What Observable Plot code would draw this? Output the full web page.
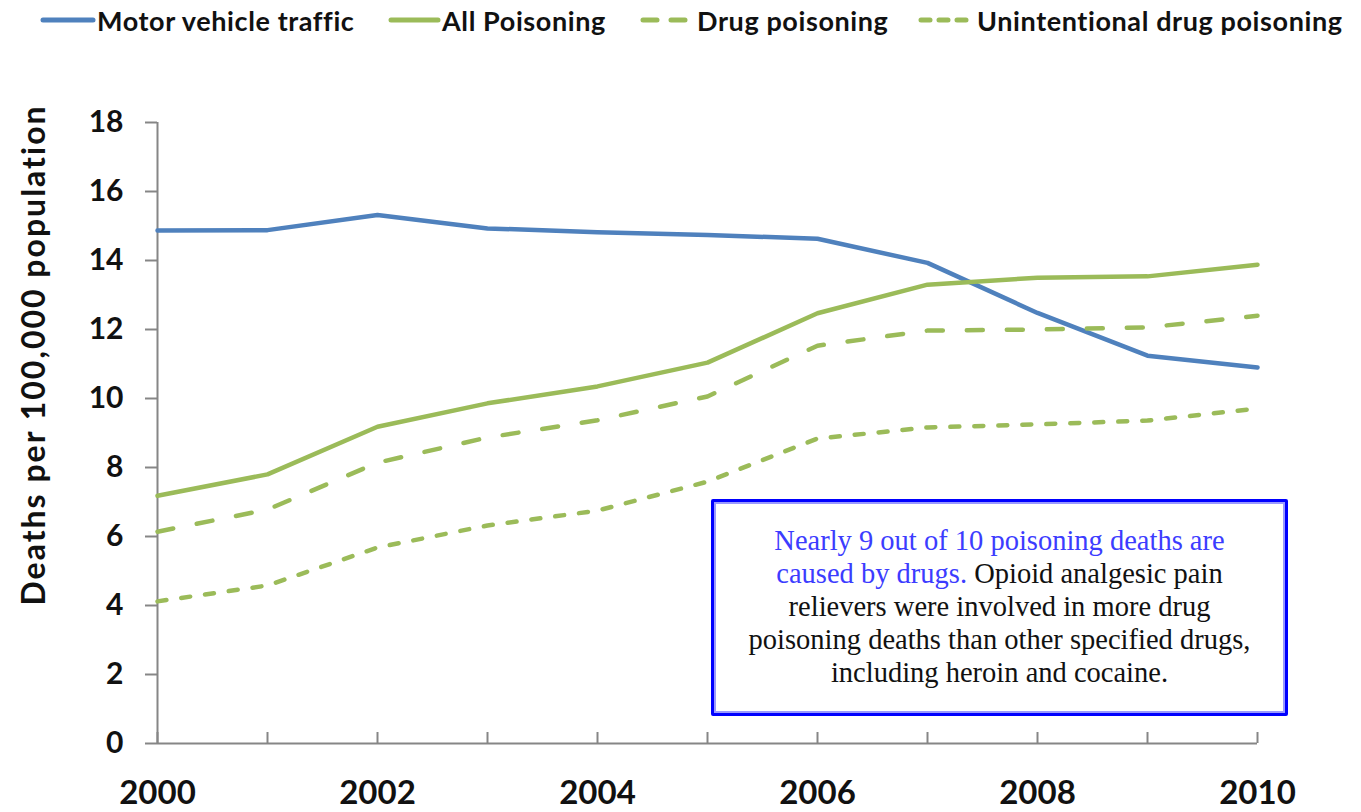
<!DOCTYPE html>
<html>
<head>
<meta charset="utf-8">
<script src="https://cdn.jsdelivr.net/npm/d3@7"></script>
<script src="https://cdn.jsdelivr.net/npm/@observablehq/plot@0.6"></script>
<style>
  html, body { margin: 0; padding: 0; background: #fff; }
  #wrap { position: relative; width: 1361px; height: 812px; overflow: hidden; font-family: Lato, sans-serif; }
  #legend { position: relative; height: 50px; }
  .li { position: absolute; top: 1px; display: flex; align-items: center; font-weight: bold; font-size: 27px; letter-spacing: 0.6px; color: #111; white-space: nowrap; }
  .li svg { display: block; }
  #ylabel { position: absolute; left: 32px; top: 355px; transform: translate(-50%, -50%) rotate(-90deg); font-weight: bold; font-size: 32px; letter-spacing: 2px; white-space: nowrap; color: #111; }
  #note { position: absolute; left: 711px; top: 499px; width: 577px; height: 217px; box-sizing: border-box; border: 3px solid #0000ff; box-shadow: inset 0 0 0 2px #9a9aff; border-radius: 2px; background: #fff; font-family: "Liberation Serif", "Times New Roman", serif; font-size: 28.5px; line-height: 33px; text-align: center; padding-top: 22px; color: #111; }
  #note .blue { color: #3c3cff; }
</style>
</head>
<body>
<div id="wrap">
  <div id="legend"></div>
  <div id="chart"></div>
  <div id="ylabel">Deaths per 100,000 population</div>
  <div id="note"><span class="blue">Nearly 9 out of 10 poisoning deaths are<br>caused by drugs.</span> Opioid analgesic pain<br>relievers were involved in more drug<br>poisoning deaths than other specified drugs,<br>including heroin and cocaine.</div>
</div>
<script>
const years = [2000, 2001, 2002, 2003, 2004, 2005, 2006, 2007, 2008, 2009, 2010];
const motorVehicle = [14.87, 14.88, 15.32, 14.93, 14.82, 14.74, 14.63, 13.93, 12.48, 11.24, 10.9];
const allPoisoning = [7.18, 7.8, 9.18, 9.86, 10.35, 11.04, 12.47, 13.3, 13.5, 13.54, 13.88];
const drugPoisoning = [6.14, 6.78, 8.14, 8.87, 9.37, 10.06, 11.53, 11.97, 12.0, 12.06, 12.4];
const unintentional = [4.12, 4.58, 5.68, 6.32, 6.75, 7.59, 8.84, 9.16, 9.25, 9.36, 9.71];
const seriesNames = ["Motor vehicle traffic", "All Poisoning", "Drug poisoning", "Unintentional drug poisoning"];
const yTicks = [0, 2, 4, 6, 8, 10, 12, 14, 16, 18];
const xLabelTicks = [2000, 2002, 2004, 2006, 2008, 2010];

const BLUE = "#4f81bd", GREEN = "#9bbb59", GREY = "#868686";
const styles = [
  {stroke: BLUE, dash: null},
  {stroke: GREEN, dash: null},
  {stroke: GREEN, dash: "16,24"},
  {stroke: GREEN, dash: "9,15"}
];
const values = [motorVehicle, allPoisoning, drugPoisoning, unintentional];
const rows = values.map((arr, s) => arr.map((v, i) => ({year: years[i], value: v, series: seriesNames[s]})));

// legend
const legendPos = [{sw: 40, w: 56}, {sw: 388, w: 53}, {sw: 640, w: 56}, {sw: 918, w: 58}];
const legend = document.getElementById("legend");
seriesNames.forEach((name, s) => {
  const d = document.createElement("div");
  d.className = "li";
  d.style.left = legendPos[s].sw + "px";
  const w = legendPos[s].w;
  const dash = s === 2 ? "14,14" : s === 3 ? "9,9" : "none";
  d.innerHTML = `<svg width="${w}" height="38"><line x1="3" x2="${w - 3}" y1="19" y2="19" stroke="${styles[s].stroke}" stroke-width="5" stroke-linecap="round" stroke-dasharray="${dash}"/></svg><span style="margin-left:1px">${name}</span>`;
  legend.appendChild(d);
});

const lineMarks = rows.map((r, s) => Plot.line(r, {
  x: "year", y: "value",
  stroke: styles[s].stroke, strokeWidth: 4.5,
  strokeDasharray: styles[s].dash || undefined,
  strokeLinecap: "round", strokeLinejoin: "round"
}));

const chart = Plot.plot({
  width: 1361,
  height: 762,
  marginLeft: 157,
  marginRight: 104,
  marginTop: 72,
  marginBottom: 69,
  style: {fontFamily: "Lato, sans-serif", background: "white", overflow: "visible"},
  x: {domain: [2000, 2010]},
  y: {domain: [0, 18]},
  marks: [
    Plot.ruleX([2000], {y1: 0, y2: 18, stroke: GREY, strokeWidth: 2}),
    Plot.ruleY([0], {x1: 2000, x2: 2010, stroke: GREY, strokeWidth: 2}),
    Plot.axisY({ticks: yTicks, tickSize: 12, tickPadding: 22, fontSize: 30, fontWeight: "bold", stroke: GREY, strokeWidth: 2, fill: "#111", label: null}),
    Plot.axisX({ticks: years, tickSize: -11, tickFormat: () => "", stroke: GREY, strokeWidth: 2, label: null}),
    Plot.axisX({ticks: xLabelTicks, tickSize: 0, tickPadding: 37, tickFormat: d => String(d), fontSize: 33, fontWeight: "bold", fill: "#111", label: null}),
    ...lineMarks
  ]
});
document.getElementById("chart").appendChild(chart);
</script>
</body>
</html>
